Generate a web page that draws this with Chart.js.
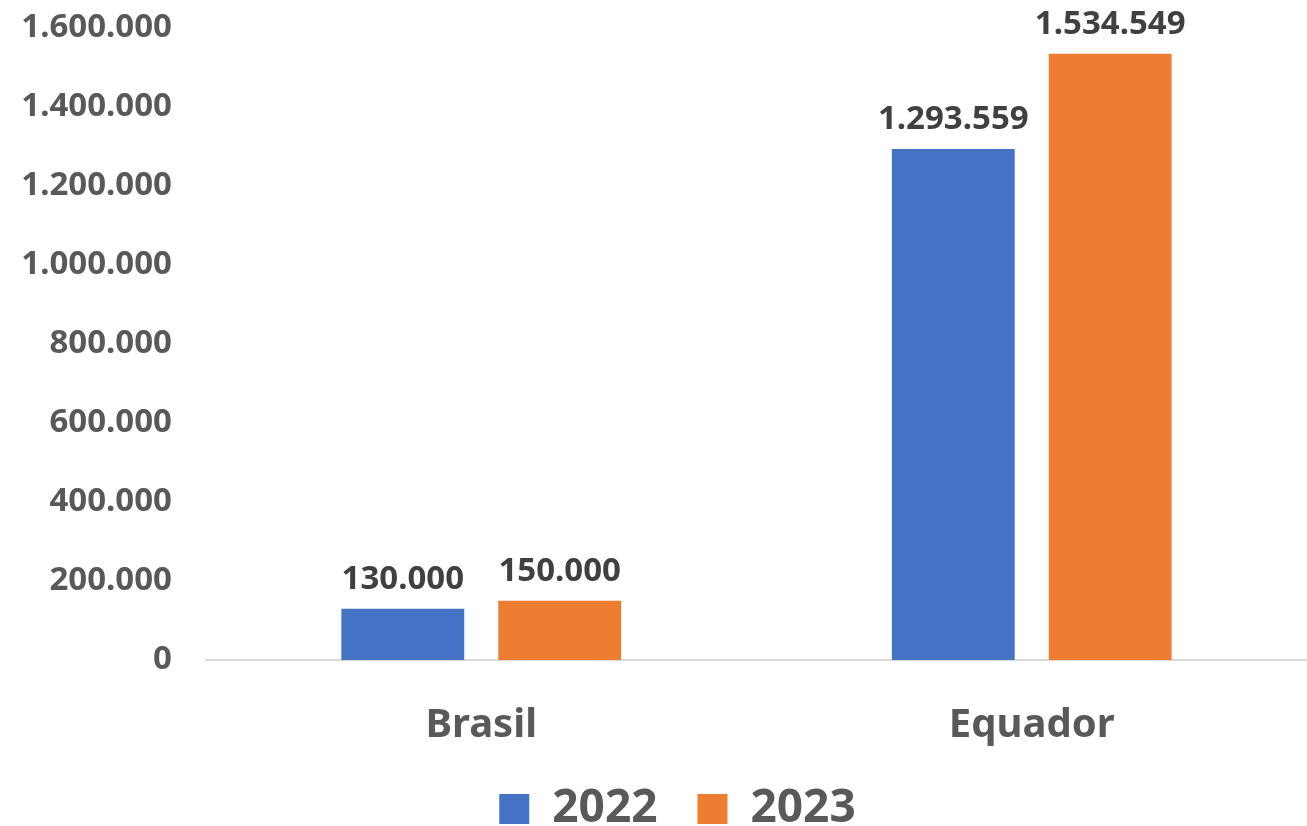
<!DOCTYPE html>
<html>
<head>
<meta charset="utf-8">
<script src="https://cdn.jsdelivr.net/npm/chart.js@4.4.1/dist/chart.umd.min.js"></script>
<style>
  html, body { margin: 0; padding: 0; background: #fff; }
  #wrap { width: 1307px; height: 826px; }
</style>
</head>
<body>
<div id="wrap"><canvas id="grafico"></canvas></div>
<script>
const paises = ['Brasil', 'Equador'];
const valores2022 = [130000, 1293559];
const valores2023 = [150000, 1534549];
const anos = ['2022', '2023'];

const fonte = "'Noto Sans', sans-serif";
const formatar = (v) => String(Math.round(v)).replace(/\B(?=(\d{3})+(?!\d))/g, '.');

// rótulos em cima das barras
const rotulosBarras = {
  id: 'rotulosBarras',
  afterDatasetsDraw(chart) {
    const ctx = chart.ctx;
    ctx.save();
    ctx.font = `bold 33px ${fonte}`;
    ctx.fillStyle = '#404040';
    ctx.textAlign = 'center';
    ctx.textBaseline = 'alphabetic';
    chart.data.datasets.forEach((ds, i) => {
      chart.getDatasetMeta(i).data.forEach((barra, j) => {
        ctx.fillText(formatar(ds.data[j]), barra.x, barra.y - 20);
      });
    });
    ctx.restore();
  }
};

// legenda um pouco à direita, como no original
const deslocaLegenda = {
  id: 'deslocaLegenda',
  afterLayout(chart) {
    if (chart.legend) {
      chart.legend.left += 19;
      chart.legend.right += 19;
    }
  }
};

new Chart(document.getElementById('grafico'), {
  type: 'bar',
  data: {
    labels: paises,
    datasets: [
      { label: anos[0], data: valores2022, backgroundColor: '#4472C4' },
      { label: anos[1], data: valores2023, backgroundColor: '#ED7D31' }
    ]
  },
  options: {
    responsive: true,
    maintainAspectRatio: false,
    animation: false,
    layout: { padding: { left: 10, top: 28, right: 0, bottom: -16 } },
    categoryPercentage: 0.57,
    barPercentage: 0.783,
    plugins: {
      tooltip: { enabled: false },
      legend: {
        position: 'bottom',
        labels: {
          boxWidth: 30,
          boxHeight: 30,
          padding: 40,
          color: '#595959',
          font: { family: fonte, size: 46, weight: 'bold' }
        }
      }
    },
    scales: {
      x: {
        grid: { display: false, tickLength: 0 },
        border: { color: '#d9d9d9', width: 2 },
        afterFit: (escala) => { escala.height = 86; },
        ticks: {
          color: '#595959',
          padding: 42,
          font: { family: fonte, size: 40, weight: 'bold' }
        }
      },
      y: {
        min: 0,
        max: 1600000,
        grid: { display: false, tickLength: 0 },
        border: { display: false },
        afterFit: (escala) => {
          escala.width = 196;
          escala.paddingTop = 0;
          escala.paddingBottom = 0;
        },
        ticks: {
          stepSize: 200000,
          color: '#595959',
          padding: 34,
          font: { family: fonte, size: 33, weight: 'bold' },
          callback: (v) => formatar(v)
        }
      }
    }
  },
  plugins: [rotulosBarras, deslocaLegenda]
});
</script>
</body>
</html>
